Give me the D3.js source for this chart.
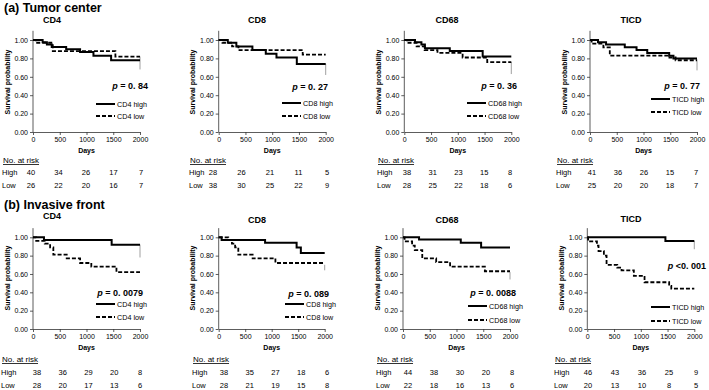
<!DOCTYPE html>
<html>
<head>
<meta charset="utf-8">
<script src="https://cdn.jsdelivr.net/npm/d3@7"></script>
<style>
  body { margin: 0; background: #fff; }
  svg { display: block; font-family: "Liberation Sans", Arial, sans-serif; }
</style>
</head>
<body>
<svg id="km" width="709" height="390"></svg>
<script>
// data
var sections = ["(a) Tumor center", "(b) Invasive front"];
var markers = ["CD4", "CD8", "CD68", "TICD"];
var dayTicks = [0, 500, 1000, 1500, 2000];
var probTicks = [0, 0.2, 0.4, 0.6, 0.8, 1.0];

// p values, row a then row b
var pTop = ["= 0. 84", "= 0. 27", "= 0. 36", "= 0. 77"];
var pBottom = ["= 0. 0079", "= 0. 089", "= 0. 0088", "<0. 001"];

// step curves [day, survival]
var highTop = [
  [[0, 1], [180, 0.975], [260, 0.95], [350, 0.925], [620, 0.9], [880, 0.87], [1130, 0.83], [1460, 0.78]],
  [[0, 1], [170, 0.97], [330, 0.93], [630, 0.89], [880, 0.85], [1080, 0.81], [1460, 0.74]],
  [[0, 1], [200, 0.975], [320, 0.95], [385, 0.91], [850, 0.88], [1465, 0.82]],
  [[0, 1], [150, 0.975], [300, 0.95], [650, 0.92], [870, 0.89], [1070, 0.86], [1480, 0.83], [1560, 0.8]]
];
var lowTop = [
  [[0, 1], [50, 0.97], [370, 0.88], [1540, 0.82]],
  [[0, 1], [70, 0.97], [250, 0.93], [370, 0.89], [1570, 0.84]],
  [[0, 1], [50, 0.97], [230, 0.93], [380, 0.89], [620, 0.86], [1090, 0.81], [1550, 0.76]],
  [[0, 1], [30, 0.96], [250, 0.92], [370, 0.83], [1450, 0.81], [1600, 0.78]]
];
var highBottom = [
  [[0, 1], [205, 0.97], [1470, 0.92]],
  [[0, 1], [55, 0.97], [875, 0.94], [1470, 0.89], [1550, 0.83]],
  [[0, 1], [300, 0.975], [1080, 0.94], [1460, 0.89]],
  [[0, 1], [1460, 0.96]]
];
var lowBottom = [
  [[0, 1], [60, 0.96], [220, 0.93], [320, 0.89], [380, 0.81], [630, 0.77], [880, 0.72], [1090, 0.68], [1560, 0.62]],
  [[0, 1], [180, 0.97], [250, 0.93], [310, 0.89], [370, 0.81], [640, 0.77], [1070, 0.72]],
  [[0, 1], [30, 0.955], [170, 0.91], [220, 0.86], [360, 0.77], [620, 0.73], [880, 0.68], [1530, 0.63]],
  [[0, 1], [15, 0.955], [180, 0.91], [210, 0.85], [310, 0.8], [360, 0.7], [560, 0.67], [640, 0.64], [870, 0.58], [1070, 0.51], [1530, 0.47], [1570, 0.44]]
];
// thin drop line at day 2000 [from, to]
var endTop = [[0.82, 0.68], [0.74, 0.62], [0.76, 0.63], [0.79, 0.67]];
var endBottom = [[0.92, 0.78], [0.7, 0.64], [0.62, 0.54], [0.96, 0.87]];

// numbers at risk
var riskHighTop = [[40, 34, 26, 17, 7], [28, 26, 21, 11, 5], [38, 31, 23, 15, 8], [41, 36, 26, 15, 7]];
var riskLowTop = [[26, 22, 20, 16, 7], [38, 30, 25, 22, 9], [28, 25, 22, 18, 6], [25, 20, 20, 18, 7]];
var riskHighBottom = [[38, 36, 29, 20, 8], [38, 35, 27, 18, 6], [44, 38, 30, 20, 8], [46, 43, 36, 25, 9]];
var riskLowBottom = [[28, 20, 17, 13, 6], [28, 21, 19, 15, 8], [22, 18, 16, 13, 6], [20, 13, 10, 8, 5]];

// layout (pixels)
var rows = [
  {
    title: [4, 12], y0: 132, y1: 40, tickY: 142, daysY: 153, labelY: 82,
    risk: [163, 175, 188],
    plots: [[33, 140], [218.7, 325.7], [404.3, 511.3], [590, 697]],
    head: [[52, 23], [257, 23], [447, 23], [631, 23]],
    ylab: [7, 192, 378, 564],
    pPos: [[148, 86], [328, 87], [517, 86], [700, 86]],
    leg: [[96, 104, 116], [282, 103, 116], [467, 103, 116], [651, 99, 112]],
    tab: [[2, 31, 141], [189, 213, 327], [377, 407, 510], [556, 592, 696]]
  },
  {
    title: [4, 209], y0: 329, y1: 237.3, tickY: 338, daysY: 350, labelY: 278,
    risk: [362, 375, 388],
    plots: [[33, 140], [218.7, 324.7], [403, 510], [587.3, 694.3]],
    head: [[52, 219], [257, 223], [447, 223], [631, 222]],
    ylab: [7, 192, 377, 561],
    pPos: [[143, 293], [329, 294], [516, 293], [706, 266]],
    leg: [[96, 304, 317], [285, 304, 317], [468, 306, 320], [651, 307, 321]],
    tab: [[1, 37, 140], [192, 224, 327], [376, 408, 512], [554, 588, 696]]
  }
];

var svg = d3.select("#km");
var rowData = [
  { p: pTop, high: highTop, low: lowTop, end: endTop, rh: riskHighTop, rl: riskLowTop },
  { p: pBottom, high: highBottom, low: lowBottom, end: endBottom, rh: riskHighBottom, rl: riskLowBottom }
];

rows.forEach(function(L, r) {
  var D = rowData[r];

  svg.append("text")
    .attr("x", L.title[0]).attr("y", L.title[1])
    .attr("font-size", 12.5).attr("font-weight", "bold")
    .text(sections[r]);

  markers.forEach(function(m, i) {
    var x = d3.scaleLinear().domain([0, 2000]).range(L.plots[i]);
    var y = d3.scaleLinear().domain([0, 1]).range([L.y0, L.y1]);
    var g = svg.append("g");

    // axes
    var yAxis = g.append("g")
      .attr("transform", "translate(" + x(0) + ",0)")
      .call(d3.axisLeft(y).tickValues(probTicks).tickFormat(d3.format(".2f")).tickSize(3).tickSizeOuter(0));
    yAxis.select(".domain").attr("d", "M0," + y(0) + "V" + y(1.1));
    var xAxis = g.append("g")
      .attr("transform", "translate(0," + y(0) + ")")
      .call(d3.axisBottom(x).tickValues(dayTicks).tickFormat(d3.format("d")).tickSize(3).tickSizeOuter(0));
    [yAxis, xAxis].forEach(function(a) {
      a.selectAll("path,line").attr("stroke", "#333").attr("stroke-width", 0.8);
      a.selectAll("text").attr("font-size", 7).attr("fill", "#000")
        .attr("font-family", "Liberation Sans, Arial, sans-serif");
    });
    yAxis.selectAll("text").attr("x", -5);
    xAxis.selectAll("text").attr("y", 5);

    g.append("text")
      .attr("x", (x(0) + x(2000)) / 2).attr("y", L.daysY)
      .attr("text-anchor", "middle").attr("font-size", 7).attr("font-weight", "bold")
      .text("Days");
    g.append("text")
      .attr("transform", "translate(" + (L.ylab[i] + 2.5) + "," + L.labelY + ") rotate(-90)")
      .attr("text-anchor", "middle").attr("font-size", 7).attr("font-weight", "bold")
      .text("Survival probability");
    g.append("text")
      .attr("x", L.head[i][0]).attr("y", L.head[i][1])
      .attr("text-anchor", "middle").attr("font-size", 9).attr("font-weight", "bold")
      .text(m);

    // curves
    var line = d3.line().curve(d3.curveStepAfter)
      .x(function(d) { return x(d[0]); })
      .y(function(d) { return y(d[1]); });
    var e = D.end[i];
    g.append("line")
      .attr("x1", x(2000)).attr("x2", x(2000))
      .attr("y1", y(e[0])).attr("y2", y(e[1]))
      .attr("stroke", "#888").attr("stroke-width", 0.8);
    [D.low[i], D.high[i]].forEach(function(pts, k) {
      var full = pts.concat([[2000, pts[pts.length - 1][1]]]);
      g.append("path")
        .attr("d", line(full))
        .attr("fill", "none").attr("stroke", "#000")
        .attr("stroke-width", k === 1 ? 2 : 1.8)
        .attr("stroke-dasharray", k === 1 ? null : "4,2");
    });

    // p value
    var pt = g.append("text")
      .attr("x", L.pPos[i][0]).attr("y", L.pPos[i][1] + 3.2)
      .attr("text-anchor", "end").attr("font-size", 9).attr("font-weight", "bold");
    pt.append("tspan").attr("font-style", "italic").text("p ");
    pt.append("tspan").text(D.p[i]);

    // legend
    var lg = L.leg[i];
    [["high", null, lg[1]], ["low", "4,2", lg[2]]].forEach(function(it) {
      g.append("line")
        .attr("x1", lg[0]).attr("x2", lg[0] + 19)
        .attr("y1", it[2]).attr("y2", it[2])
        .attr("stroke", "#000").attr("stroke-width", it[1] ? 1.8 : 2)
        .attr("stroke-dasharray", it[1]);
      g.append("text")
        .attr("x", lg[0] + 21).attr("y", it[2] + 2.5)
        .attr("font-size", 7.2)
        .text(m + " " + it[0]);
    });

    // numbers at risk
    var t = L.tab[i];
    var tx = d3.scaleLinear().domain([0, 2000]).range([t[1], t[2]]);
    g.append("text")
      .attr("x", t[0] + 1).attr("y", L.risk[0])
      .attr("font-size", 8).attr("text-decoration", "underline")
      .text("No. at risk");
    [["High", D.rh[i], L.risk[1]], ["Low", D.rl[i], L.risk[2]]].forEach(function(row) {
      g.append("text").attr("x", t[0]).attr("y", row[2]).attr("font-size", 7.5).text(row[0]);
      g.selectAll(null).data(row[1]).enter().append("text")
        .attr("x", function(d, j) { return tx(dayTicks[j]); })
        .attr("y", row[2])
        .attr("text-anchor", "middle").attr("font-size", 7.5)
        .text(function(d) { return d; });
    });
  });
});
</script>
</body>
</html>
